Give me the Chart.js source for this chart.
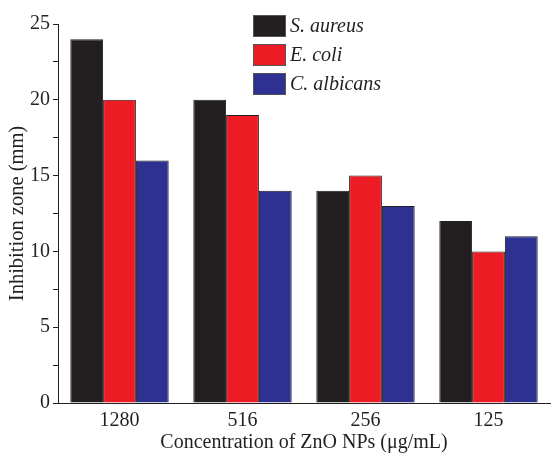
<!DOCTYPE html>
<html>
<head>
<meta charset="utf-8">
<script src="https://cdn.jsdelivr.net/npm/chart.js@4.4.1/dist/chart.umd.min.js"></script>
<style>
  html, body { margin: 0; padding: 0; background: #fff; }
  #wrap { width: 552px; height: 453px; }
</style>
</head>
<body>
<div id="wrap"><canvas id="zoneChart" width="552" height="453"></canvas></div>
<script>
  // Inhibition zone (mm) per ZnO NP concentration
  const concentrations = ['1280', '516', '256', '125'];
  const sAureus = [24, 20, 14, 12];
  const eColi = [20, 19, 15, 10];
  const cAlbicans = [16, 14, 13, 11];
  const seriesNames = ['S. aureus', 'E. coli', 'C. albicans'];
  const seriesColors = ['#231f20', '#ed1c24', '#2e3192'];

  const FONT = 'Liberation Serif, Times New Roman, serif';
  const INK = '#231f20';

  // Vertical legend with framed swatches, drawn inside the plot area
  const boxLegend = {
    id: 'boxLegend',
    afterDraw(chart) {
      const ctx = chart.ctx;
      const x = 253, y0 = 15, w = 33, h = 22, gap = 29;
      ctx.save();
      ctx.font = 'italic 20px ' + FONT;
      ctx.textBaseline = 'middle';
      chart.data.datasets.forEach((ds, i) => {
        const y = y0 + i * gap;
        ctx.fillStyle = ds.backgroundColor;
        ctx.fillRect(x, y, w, h);
        ctx.strokeStyle = '#555';
        ctx.lineWidth = 1;
        ctx.strokeRect(x + 0.5, y + 0.5, w - 1, h - 1);
        ctx.fillStyle = INK;
        ctx.fillText(ds.label, x + w + 4, y + h / 2 + 1);
      });
      ctx.restore();
    }
  };

  const makeSet = (i, data) => ({
    label: seriesNames[i], data,
    backgroundColor: seriesColors[i],
    borderColor: INK, borderWidth: 1,
    categoryPercentage: 0.8, barPercentage: 1.0
  });

  new Chart(document.getElementById('zoneChart'), {
    type: 'bar',
    data: {
      labels: concentrations,
      datasets: [makeSet(0, sAureus), makeSet(1, eColi), makeSet(2, cAlbicans)]
    },
    options: {
      responsive: false, animation: false,
      layout: { padding: { top: 24, right: 2, left: 0, bottom: 0 } },
      plugins: { legend: { display: false }, tooltip: { enabled: false } },
      scales: {
        x: {
          grid: { display: false },
          border: { display: true, color: INK, width: 1 },
          ticks: { color: INK, font: { family: FONT, size: 20, lineHeight: 1 }, padding: 0 },
          title: { display: true, text: 'Concentration of ZnO NPs (μg/mL)', color: INK,
                   font: { family: FONT, size: 20, lineHeight: 1 }, padding: { top: 0, bottom: 0 } },
          afterFit: s => { s.height = 50; }
        },
        y: {
          min: 0, max: 25,
          ticks: { stepSize: 2.5, autoSkip: false, color: INK, padding: 3,
                   font: { family: FONT, size: 20 },
                   callback: v => (v % 5 === 0 ? v : '') },
          grid: { drawOnChartArea: false, color: INK, tickLength: 5, tickWidth: 1 },
          border: { display: true, color: INK, width: 1 },
          title: { display: true, text: 'Inhibition zone (mm)', color: INK,
                   font: { family: FONT, size: 20.5 }, padding: { top: 5, bottom: 0 } },
          afterFit: s => { s.width = 58; }
        }
      }
    },
    plugins: [boxLegend]
  });
</script>
</body>
</html>
